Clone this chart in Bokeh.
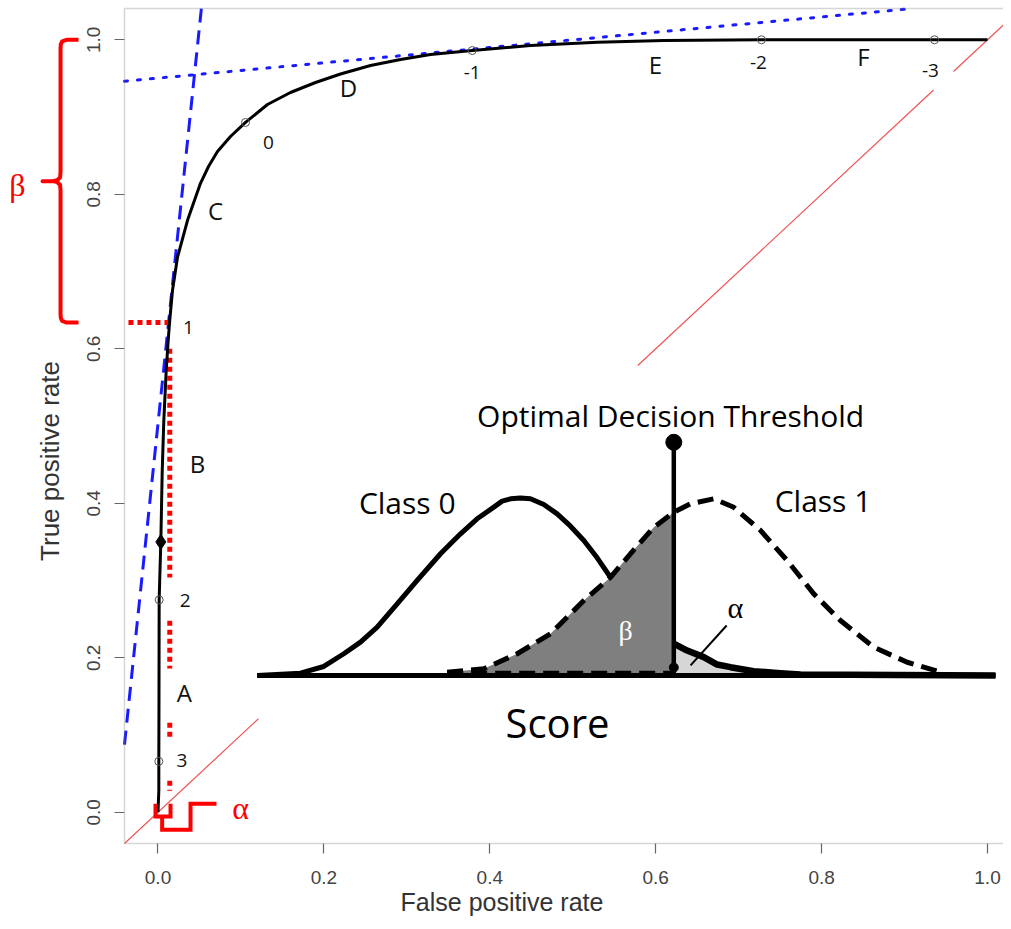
import numpy as np
from bokeh.plotting import figure
from bokeh.models import Range1d, LinearAxis, FixedTicker, NumeralTickFormatter, BoxAnnotation
from bokeh.embed import file_html
from bokeh.resources import INLINE
from bokeh.core.properties import value

# ---------------- ROC data ----------------
roc_fpr = [0.0, 0.001, 0.001, 0.0012, 0.0014, 0.0034, 0.0051, 0.007, 0.0099, 0.0123, 0.0139,
           0.0175, 0.0235, 0.0356, 0.0512, 0.0609, 0.0717, 0.0874, 0.1055, 0.1320, 0.1597,
           0.1899, 0.2200, 0.2562, 0.2924, 0.3285, 0.3788, 0.4491, 0.5298, 0.6094, 0.7275,
           0.9361, 1.0]
roc_tpr = [0.0, 0.028, 0.066, 0.149, 0.275, 0.350, 0.442, 0.507, 0.572, 0.611, 0.634,
           0.6757, 0.7184, 0.7663, 0.8142, 0.836, 0.8554, 0.8748, 0.893, 0.9162, 0.9318,
           0.9447, 0.9557, 0.9667, 0.9745, 0.9809, 0.9861, 0.9926, 0.9969, 0.9991, 1.0,
           1.0, 1.0]

# threshold points on the curve
thr_labels = ["3", "2", "1", "0", "-1", "-2", "-3"]
thr_fpr = [0.001, 0.0014, 0.0139, 0.1055, 0.3788, 0.7275, 0.9361]
thr_tpr = [0.066, 0.275, 0.634, 0.893, 0.9861, 1.0, 1.0]
thr_marked = [True, True, False, True, True, True, True]

# optimal operating point (diamond)
opt_fpr = [0.0034]
opt_tpr = [0.350]

# region letters along the curve
region_labels = ["A", "B", "C", "D", "E", "F"]
region_fpr = [0.0319, 0.0476, 0.0693, 0.2297, 0.5997, 0.8505]
region_tpr = [0.155, 0.4515, 0.7791, 0.9383, 0.968, 0.9784]

# tangent lines (slope, intercept) at thresholds 1 and -1
tan_steep = (10.28, 0.503)
tan_flat = (0.099, 0.9504)

# alpha / beta at threshold 1
alpha_fpr = 0.0142
beta_lo, beta_hi = 0.634, 1.0

# ---------------- inset: score distributions ----------------
class0_score = [0.0, 0.586, 0.902, 1.173, 1.399, 1.625, 1.896, 2.167, 2.483, 2.754, 2.979, 3.205,
                3.318, 3.431, 3.566, 3.702, 3.882, 4.063, 4.244, 4.424, 4.605, 4.785, 5.056,
                5.327, 5.643, 5.824, 6.049, 6.230, 6.411, 6.726, 7.088, 7.359, 10.0]
class0_dens = [0.0, 0.013, 0.051, 0.123, 0.189, 0.274, 0.406, 0.538, 0.689, 0.802, 0.887, 0.953,
               0.987, 1.0, 1.005, 1.0, 0.968, 0.915, 0.845, 0.764, 0.666, 0.556, 0.424,
               0.300, 0.180, 0.141, 0.104, 0.062, 0.047, 0.024, 0.013, 0.006, 0.0]
class1_score = [2.573, 3.069, 3.522, 3.973, 4.424, 4.785, 5.056, 5.372, 5.643, 5.870, 6.184,
                6.455, 6.817, 7.179, 7.539, 7.900, 8.352, 8.804, 9.256]
class1_dens = [0.019, 0.038, 0.123, 0.236, 0.424, 0.556, 0.689, 0.839, 0.924, 0.972, 1.0,
               0.952, 0.821, 0.651, 0.462, 0.311, 0.160, 0.075, 0.019]
threshold_score = 5.643
score_span = (0.0, 10.0)

# ---------------- figure ----------------
XS, XE = -0.18987, 1.01929
YS, YE = -0.14136, 1.05087
R = 0.0404  # R-style 4% range extension

p = figure(width=1003, height=921, x_range=Range1d(XS, XE), y_range=Range1d(YS, YE),
           output_backend="svg", toolbar_location=None,
           x_axis_location=None, y_axis_location=None, min_border=0,
           outline_line_color=None, background_fill_color="white", border_fill_color="white")
p.grid.visible = False

# inset placement (main data coords of score 0/10 and density 0/1)
ix0, ix1 = 0.1196, 1.0096
iy0, iy1 = 0.1771, 0.4058
p.extra_x_ranges = {"score": Range1d((XS - ix0) / (ix1 - ix0) * 10, (XE - ix0) / (ix1 - ix0) * 10)}
p.extra_y_ranges = {"dens": Range1d((YS - iy0) / (iy1 - iy0), (YE - iy0) / (iy1 - iy0))}

ticks = [0.0, 0.2, 0.4, 0.6, 0.8, 1.0]
common = dict(ticker=FixedTicker(ticks=ticks), formatter=NumeralTickFormatter(format="0.0"),
              axis_line_color=None, major_tick_in=0, major_tick_out=10,
              major_tick_line_color="#666666", major_tick_line_width=1.2,
              minor_tick_line_color=None,
              major_label_text_font="Liberation Sans", major_label_text_font_size="19px",
              major_label_text_color="#444444",
              axis_label_text_font="Liberation Sans",
              axis_label_text_font_style="normal", axis_label_text_color="#333333")
xaxis = LinearAxis(fixed_location=-R, axis_label="False positive rate",
                   axis_label_text_font_size="25px",
                   major_label_standoff=17, axis_label_standoff=1, **common)
yaxis = LinearAxis(fixed_location=-R, axis_label="True positive rate",
                   axis_label_text_font_size="26px",
                   major_label_orientation="vertical",
                   major_label_standoff=14, axis_label_standoff=20, **common)
p.add_layout(xaxis, "below")
p.add_layout(yaxis, "left")

# plot box
p.add_layout(BoxAnnotation(left=-R, right=1 + R, bottom=-R, top=1 + R,
                           fill_color=None, line_color="#777777", line_width=1.5))

nan = float("nan")
# diagonal chance line (interrupted by inset and label)
dg = [-R, 0.1212, nan, 0.5784, 0.935, nan, 0.959, 1.03]
p.line(dg, dg, line_color="#ee5555", line_width=1.2)

# tangent lines
s, b = tan_steep
x_lo = -R
x_hi = (1 + R - b) / s
p.line([x_lo, x_hi], [b + s * x_lo, b + s * x_hi], line_color="#1a1aff", line_width=3,
       line_dash="14 8")
s, b = tan_flat
x_hi = (1 + R - b) / s
p.line([-R, x_hi], [b - s * R, b + s * x_hi], line_color="#1a1aff", line_width=3,
       line_dash="3 10", line_cap="round")

# red dotted guide lines
p.line([-0.0356, 0.0127], [beta_lo, beta_lo], line_color="#ff0000", line_width=5, line_dash="5 4")
vy = [0.600, 0.304, nan, 0.248, 0.186, nan, 0.116, 0.095, nan, 0.041, 0.028]
p.line([alpha_fpr if v == v else nan for v in vy], vy, line_color="#ff0000", line_width=5,
       line_dash="5 4")

# ROC curve
p.line(roc_fpr, roc_tpr, line_color="black", line_width=3, line_join="round")
mx = [x for x, m in zip(thr_fpr, thr_marked) if m]
my = [y for y, m in zip(thr_tpr, thr_marked) if m]
p.scatter(mx, my, marker="circle", size=8, fill_color=None, line_color="#555555", line_width=1)
p.scatter(opt_fpr, opt_tpr, marker="diamond", size=15, fill_color="black", line_color="black")

# threshold labels
lab_dx = [23, 26, 19, 23, 0, -3, -4]
lab_dy = [-1, 1, 5, 20, 22, 23, 31]
p.text(thr_fpr, thr_tpr, text=thr_labels, x_offset=lab_dx, y_offset=lab_dy,
       text_font=value("Open Sans"), text_font_size="19px", text_color="#111111",
       text_align="center", text_baseline="middle")
p.text(region_fpr, region_tpr, text=region_labels, text_font=value("Open Sans"),
       text_font_size="24px", text_color="#111111", text_align="center", text_baseline="middle")

# beta brace (left of axis)
mid = (beta_lo + beta_hi) / 2
bx, hx, sx = -0.1175, -0.0958, -0.1392
brace_x = [hx, -0.1103, -0.1155, -0.1172, bx, bx, -0.1180, -0.1215, -0.1270, sx,
           -0.1270, -0.1215, -0.1180, bx, bx, -0.1172, -0.1155, -0.1103, hx]
brace_y = [beta_hi, beta_hi, beta_hi - 0.002, beta_hi - 0.006, beta_hi - 0.012,
           mid + 0.012, mid + 0.005, mid + 0.0012, mid, mid,
           mid, mid - 0.0012, mid - 0.005, mid - 0.012,
           beta_lo + 0.012, beta_lo + 0.006, beta_lo + 0.002, beta_lo, beta_lo]
p.line(brace_x, brace_y, line_color="#ff0000", line_width=4, line_join="round")
p.text([-0.1694], [mid - 0.005], text=["β"], text_font=value("Liberation Serif"),
       text_font_size="32px", text_color="#ff0000", text_align="center", text_baseline="middle")

# alpha bracket (below the operating point)
ax = [-0.003, -0.003, alpha_fpr + 0.0009, alpha_fpr + 0.0009, nan,
      0.005, 0.005, 0.0392, 0.0392, 0.0705]
ay = [0.011, -0.0054, -0.0054, 0.011, nan,
      -0.0054, -0.0227, -0.0227, 0.011, 0.011]
p.line(ax, ay, line_color="#ff0000", line_width=4, line_join="miter")
p.text([0.0995], [0.006], text=["α"], text_font=value("Liberation Serif"),
       text_font_size="32px", text_color="#ff0000", text_align="center", text_baseline="middle")

# ---------------- inset ----------------
kw = dict(x_range_name="score", y_range_name="dens")
c0s, c0d = np.array(class0_score), np.array(class0_dens)
c1s, c1d = np.array(class1_score), np.array(class1_dens)
t = threshold_score

p.line(c0s, c0d, line_color="black", line_width=5, line_join="round", **kw)
# beta area: class 1 below threshold
m1 = c1s <= t + 1e-9
bxs = list(c1s[m1]) + [t, c1s[0]]
bys = list(c1d[m1]) + [0, 0]
p.patch(bxs, bys, fill_color="#7f7f7f", line_color=None, **kw)
# alpha area: class 0 above threshold
m0 = (c0s >= t - 1e-9) & (c0s <= 7.4)
axs = [t] + list(c0s[m0]) + [c0s[m0][-1]]
ays = [0] + list(c0d[m0]) + [0]
p.patch(axs, ays, fill_color="#d6d6d6", line_color=None, **kw)
p.line(c0s[c0s >= t - 1e-9], c0d[c0s >= t - 1e-9], line_color="black", line_width=6.5,
       line_join="round", **kw)
# class 1 dashed
p.line(c1s, c1d, line_color="black", line_width=5, line_dash="16 8", **kw)
# baseline
p.line(list(score_span), [0, 0], line_color="black", line_width=5, **kw)
p.line([c1s[0], t], [0.012, 0.012], line_color="black", line_width=5, line_dash="16 8", **kw)
# threshold lollipop
p.line([t, t], [0, 1.32], line_color="black", line_width=4.5, **kw)
p.scatter([t], [1.32], size=16, marker="circle", color="black", **kw)
p.scatter([t], [0.045], size=9, marker="circle", color="black", **kw)
# alpha pointer
p.line([6.359, 5.870], [0.283, 0.057], line_color="black", line_width=2, **kw)

p.text([5.6], [1.471], text=["Optimal Decision Threshold"], text_font=value("Open Sans"),
       text_font_size="30px", text_color="black", text_align="center", text_baseline="middle", **kw)
p.text([2.032, 7.664], [0.981, 0.990], text=["Class 0", "Class 1"], text_font=value("Open Sans"),
       text_font_size="30px", text_color="black", text_align="center", text_baseline="middle", **kw)
p.text([4.067], [-0.266], text=["Score"], text_font=value("Open Sans"),
       text_font_size="40px", text_color="black", text_align="center", text_baseline="middle", **kw)
p.text([6.478], [0.387], text=["α"], text_font=value("Liberation Serif"),
       text_font_size="30px", text_color="black", text_align="center", text_baseline="middle", **kw)
p.text([4.99], [0.255], text=["β"], text_font=value("Liberation Serif"),
       text_font_size="28px", text_color="white", text_align="center", text_baseline="middle", **kw)

open("out.html", "w").write(file_html(p, INLINE))
